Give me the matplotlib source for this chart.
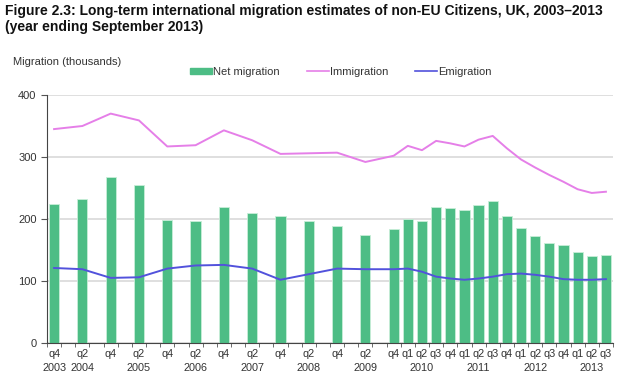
import matplotlib
matplotlib.use('Agg')
import matplotlib.pyplot as plt
from matplotlib.patches import Patch
from matplotlib.lines import Line2D
from matplotlib.transforms import blended_transform_factory
import numpy as np

plt.rcParams['font.family'] = ['Liberation Sans', 'DejaVu Sans']

# periods (year ending), semi-annual until mid 2009 then quarterly
periods = ["2003q4", "2004q2", "2004q4", "2005q2", "2005q4", "2006q2", "2006q4",
           "2007q2", "2007q4", "2008q2", "2008q4", "2009q2", "2009q4",
           "2010q1", "2010q2", "2010q3", "2010q4", "2011q1", "2011q2", "2011q3", "2011q4",
           "2012q1", "2012q2", "2012q3", "2012q4", "2013q1", "2013q2", "2013q3"]
net_migration = [224, 233, 267, 255, 198, 196, 219, 209, 205, 197, 188, 175, 184,
                 200, 197, 219, 218, 215, 222, 229, 205,
                 185, 172, 161, 158, 147, 140, 142]
immigration = [345, 350, 370, 359, 317, 319, 343, 327, 305, 306, 307, 292, 302,
               318, 311, 326, 322, 317, 328, 334, 314,
               296, 283, 271, 260, 248, 242, 244]
emigration = [121, 119, 105, 106, 120, 125, 126, 120, 102, 111, 120, 119, 119,
              120, 115, 107, 104, 102, 104, 107, 111,
              112, 110, 107, 103, 102, 102, 103]
# second row of the axis labels: year shown under these periods
year_label_periods = ["2003q4", "2004q2", "2005q2", "2006q2", "2007q2", "2008q2",
                      "2009q2", "2010q2", "2011q2", "2012q2", "2013q2"]


def slot(p):
    # position on a quarterly time axis
    return (int(p[:4]) - 2003) * 4 + int(p[-1]) - 4


x = np.array([slot(p) for p in periods])

green = '#4dbd85'
pink = '#e57fe8'
blue = '#5252dc'
txt = '#333333'

fig = plt.figure(figsize=(6.2, 3.75), dpi=100)
ax = fig.add_axes([47/620, 1-343/375, 566/620, 248/375])

ax.bar(x, net_migration, width=0.72, color=green, edgecolor='#c8eed8', linewidth=0.6, zorder=2)
ax.plot(x, immigration, color=pink, lw=1.4, zorder=3)
ax.plot(x, emigration, color=blue, lw=1.4, zorder=3)

ax.set_ylim(0, 400)
ax.set_xlim(-0.5, x[-1] + 0.5)
ax.set_yticks([0, 100, 200, 300, 400])
ax.yaxis.grid(True, color='#d9d9d9', lw=1.2, zorder=0)
ax.set_axisbelow(True)

ax.set_xticks(x)
ax.set_xticklabels(['q' + p[-1] for p in periods], fontsize=7.8, color=txt)
ax.set_xticks(np.arange(-0.5, x[-1] + 1, 1), minor=True)
ax.tick_params(axis='x', which='major', length=0, pad=4)
ax.tick_params(axis='x', which='minor', length=3, color='#555555', direction='out')
ax.tick_params(axis='y', length=4, color='#555555', labelsize=8, labelcolor=txt)

trans = blended_transform_factory(ax.transData, fig.transFigure)
for p in year_label_periods:
    ax.text(slot(p), 1-368/375, p[:4], transform=trans, ha='center', va='center',
            fontsize=7.8, color=txt)

for s in ['top', 'right']:
    ax.spines[s].set_visible(False)
ax.spines['left'].set_color('#444444')
ax.spines['bottom'].set_color('#444444')

fig.text(5/620, 1-4/375, "Figure 2.3: Long-term international migration estimates of non-EU Citizens, UK, 2003\u20132013\n(year ending September 2013)",
         fontsize=10, fontweight='bold', va='top', ha='left', color='#111111', linespacing=1.15)
fig.text(13/620, 1-62/375, "Migration (thousands)", fontsize=8, color=txt, va='center', ha='left')

handles = [Patch(facecolor=green, edgecolor=green),
           Line2D([], [], color=pink, lw=1.2),
           Line2D([], [], color=blue, lw=1.2)]
fig.legend(handles, ["Net migration", "Immigration", "Emigration"], loc='center left',
           bbox_to_anchor=(180/620, 1-72/375), ncol=3, frameon=False, fontsize=8,
           handlelength=2.0, handleheight=0.5, handletextpad=0.1, columnspacing=2.4,
           labelcolor=txt)

fig.savefig('out.png', dpi=100)
